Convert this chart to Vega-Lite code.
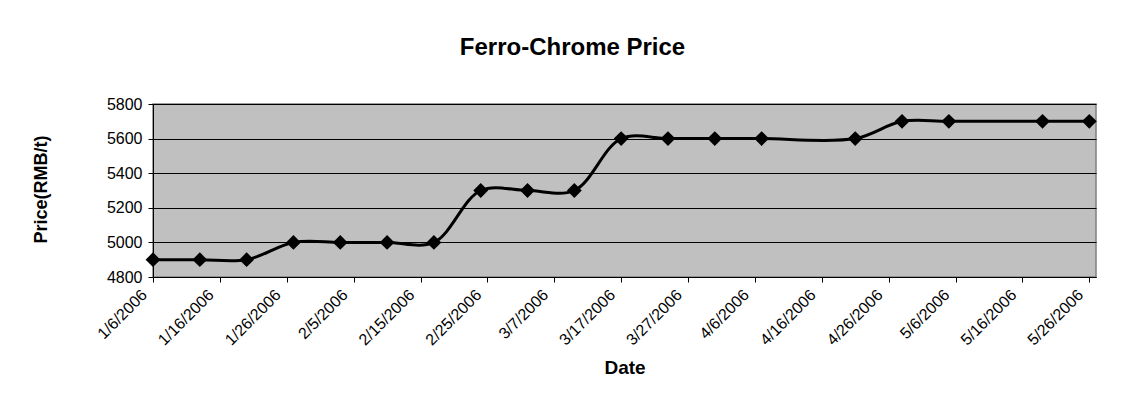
{
  "$schema": "https://vega.github.io/schema/vega-lite/v6.json",
  "width": 943,
  "height": 173,
  "autosize": "none",
  "padding": {"left": 153, "top": 104, "right": 47, "bottom": 133},
  "background": "white",
  "title": {
    "text": "Ferro-Chrome Price",
    "font": "Liberation Sans",
    "fontSize": 24,
    "fontWeight": "bold",
    "color": "black",
    "anchor": "middle",
    "offset": 36,
    "dx": -52
  },
  "config": {
    "view": {"fill": "#C0C0C0", "stroke": "#808080", "strokeWidth": 1.5},
    "axis": {
      "labelFont": "Liberation Sans",
      "titleFont": "Liberation Sans",
      "labelColor": "black",
      "titleColor": "black",
      "domainColor": "black",
      "tickColor": "black",
      "tickSize": 5,
      "domainWidth": 1,
      "tickWidth": 1
    }
  },
  "data": {
    "values": [
      {"date": "2006-01-06", "price": 4900},
      {"date": "2006-01-13", "price": 4900},
      {"date": "2006-01-20", "price": 4900},
      {"date": "2006-01-27", "price": 5000},
      {"date": "2006-02-03", "price": 5000},
      {"date": "2006-02-10", "price": 5000},
      {"date": "2006-02-17", "price": 5000},
      {"date": "2006-02-24", "price": 5300},
      {"date": "2006-03-03", "price": 5300},
      {"date": "2006-03-10", "price": 5300},
      {"date": "2006-03-17", "price": 5600},
      {"date": "2006-03-24", "price": 5600},
      {"date": "2006-03-31", "price": 5600},
      {"date": "2006-04-07", "price": 5600},
      {"date": "2006-04-21", "price": 5600},
      {"date": "2006-04-28", "price": 5700},
      {"date": "2006-05-05", "price": 5700},
      {"date": "2006-05-19", "price": 5700},
      {"date": "2006-05-26", "price": 5700}
    ]
  },
  "encoding": {
    "x": {
      "field": "date",
      "type": "temporal",
      "title": "Date",
      "scale": {
        "type": "utc",
        "domain": [
          {"year": 2006, "month": 1, "date": 6, "utc": true},
          {"year": 2006, "month": 5, "date": 27, "utc": true}
        ]
      },
      "axis": {
        "values": [
          {"year": 2006, "month": 1, "date": 6, "utc": true},
          {"year": 2006, "month": 1, "date": 16, "utc": true},
          {"year": 2006, "month": 1, "date": 26, "utc": true},
          {"year": 2006, "month": 2, "date": 5, "utc": true},
          {"year": 2006, "month": 2, "date": 15, "utc": true},
          {"year": 2006, "month": 2, "date": 25, "utc": true},
          {"year": 2006, "month": 3, "date": 7, "utc": true},
          {"year": 2006, "month": 3, "date": 17, "utc": true},
          {"year": 2006, "month": 3, "date": 27, "utc": true},
          {"year": 2006, "month": 4, "date": 6, "utc": true},
          {"year": 2006, "month": 4, "date": 16, "utc": true},
          {"year": 2006, "month": 4, "date": 26, "utc": true},
          {"year": 2006, "month": 5, "date": 6, "utc": true},
          {"year": 2006, "month": 5, "date": 16, "utc": true},
          {"year": 2006, "month": 5, "date": 26, "utc": true}
        ],
        "format": "%-m/%-d/%Y",
        "labelAngle": -45,
        "labelAlign": "right",
        "labelBaseline": "middle",
        "labelFontSize": 16,
        "labelPadding": 10,
        "labelOffset": -9,
        "labelOverlap": false,
        "labelFlush": false,
        "grid": false,
        "titleFontSize": 19,
        "titleFontWeight": "bold",
        "titleBaseline": "middle",
        "titleY": 90
      }
    },
    "y": {
      "field": "price",
      "type": "quantitative",
      "title": "Price(RMB/t)",
      "scale": {"domain": [4800, 5800], "nice": false, "zero": false},
      "axis": {
        "values": [4800, 5000, 5200, 5400, 5600, 5800],
        "format": "d",
        "grid": true,
        "gridColor": "black",
        "gridWidth": 1,
        "gridOpacity": 1,
        "labelFontSize": 16,
        "labelPadding": 6,
        "titleFontSize": 18,
        "titleFontWeight": "bold",
        "titleAngle": 270,
        "titleBaseline": "middle",
        "titleAlign": "center",
        "titleX": -112,
        "titleY": 85
      }
    }
  },
  "layer": [
    {
      "mark": {"type": "line", "color": "black", "strokeWidth": 3, "interpolate": "catmull-rom"}
    },
    {
      "mark": {"type": "point", "shape": "diamond", "filled": true, "color": "black", "opacity": 1, "size": 220}
    }
  ]
}
